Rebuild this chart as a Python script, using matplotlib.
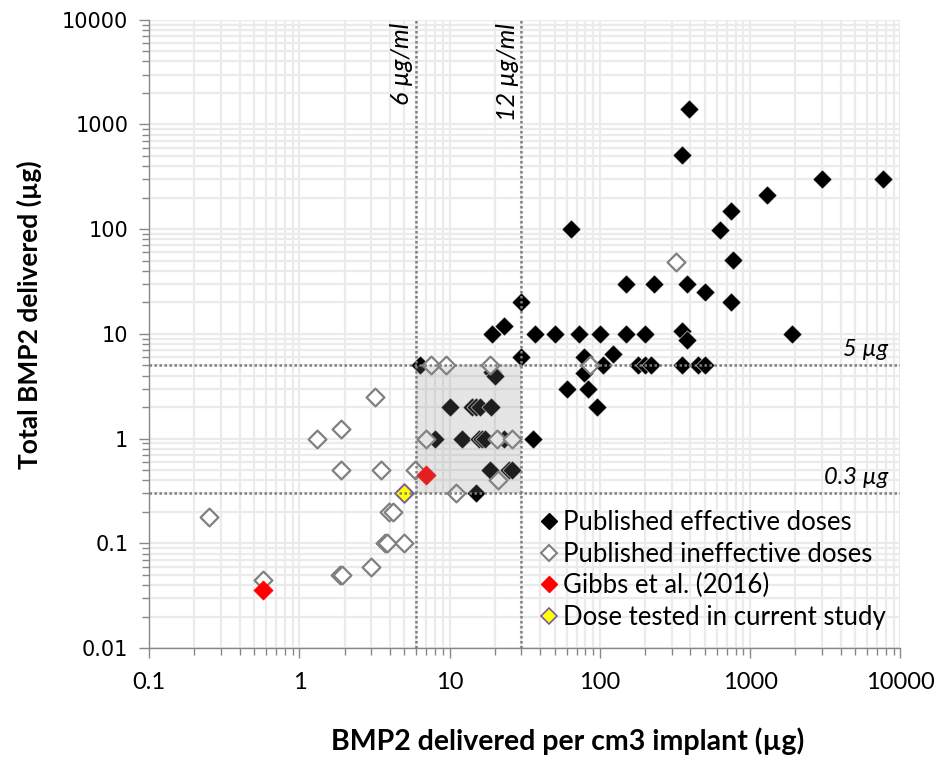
import numpy as np
import matplotlib
matplotlib.use("Agg")
from matplotlib import pyplot as plt
from matplotlib.ticker import LogLocator, FuncFormatter, NullFormatter
from matplotlib.patches import Rectangle
from matplotlib.lines import Line2D

plt.rcParams['font.family'] = ['Lato', 'DejaVu Sans']

# ---- data (x: ug per cm3 implant, y: total ug) ----
eff_x = [6.3, 30, 19, 20, 10, 14, 15, 16, 18.7, 8, 12, 15.7, 16.5, 17.2, 23, 36,
         18.5, 25, 26, 15,
         390, 350, 3000, 7700, 1300, 750, 630, 64, 770, 150, 230, 380, 500, 740, 30,
         19, 23, 37, 50, 72, 100, 150, 200, 350, 380, 1900, 123, 78, 105,
         180, 200, 220, 350, 450, 500, 78, 60, 83, 95]
eff_y = [5, 6, 4.3, 4, 2, 2, 2, 2, 2, 1, 1, 1, 1, 1, 1, 1,
         0.5, 0.5, 0.5, 0.3,
         1400, 510, 300, 300, 210, 150, 98, 100, 51, 30, 30, 30, 25, 20, 20,
         10, 12, 10, 10, 10, 10, 10, 10, 10.6, 8.7, 10, 6.5, 6, 5,
         5, 5, 5, 5, 5, 5, 4.2, 3, 3, 2]

ineff_x = [7.5, 9.5, 18.6, 86, 320, 3.2, 1.9, 1.3, 7, 20.8, 26, 1.9, 3.5, 5.9,
           21, 11, 0.25, 3.95, 4.2, 3.7, 3.85, 5, 3.0, 1.85, 1.92, 0.57]
ineff_y = [5, 5, 5, 5, 49, 2.5, 1.25, 1.0, 1, 1, 1, 0.5, 0.5, 0.5,
           0.4, 0.3, 0.18, 0.2, 0.198, 0.101, 0.101, 0.1, 0.06, 0.05, 0.05, 0.045]

gibbs_x = [0.57, 7.0]
gibbs_y = [0.036, 0.45]

current_x = [5.0]
current_y = [0.3]

conc_lines = [6, 30]
conc_labels = ['6 µg/ml', '12 µg/ml']
dose_lines = [5, 0.3]
dose_labels = ['5 µg', '0.3 µg']

x_ticks = [0.1, 1, 10, 100, 1000, 10000]
y_ticks = [0.01, 0.1, 1, 10, 100, 1000, 10000]

# ---- figure ----
fig = plt.figure(figsize=(9.38, 7.59), dpi=100)
ax = fig.add_axes([0.159, 0.146, 0.801, 0.828])

ax.set_xscale('log')
ax.set_yscale('log')
ax.set_xlim(0.1, 10000)
ax.set_ylim(0.01, 10000)

ax.grid(which='both', color='#ebebeb', lw=1.6, zorder=0)
ax.set_axisbelow(True)

ax.scatter(eff_x, eff_y, marker='D', s=95, c='black', edgecolors='white',
           linewidths=0.4, zorder=3)
ax.scatter(ineff_x, ineff_y, marker='D', s=82, c='white', edgecolors='#808080',
           linewidths=1.6, zorder=4)
ax.scatter(gibbs_x, gibbs_y, marker='D', s=95, c='#ff0000', edgecolors='#ff0000',
           linewidths=0.5, zorder=5)
ax.scatter(current_x, current_y, marker='D', s=90, c='#ffff00', edgecolors='#7a5c9e',
           linewidths=1.4, zorder=5)

# shaded window between the reference lines
ax.add_patch(Rectangle((conc_lines[0], dose_lines[1]), conc_lines[1] - conc_lines[0],
                       dose_lines[0] - dose_lines[1], facecolor='#8b8b8b',
                       alpha=0.22, edgecolor='none', zorder=6))

for xv, lab in zip(conc_lines, conc_labels):
    ax.axvline(xv, color='#7f7f7f', lw=1.8, ls=(0, (1, 1)), zorder=7)
    ax.text(xv / 1.045, 10000 / 1.08, lab, rotation=90, ha='right', va='top',
            fontsize=18, style='italic', zorder=8)

for yv, lab in zip(dose_lines, dose_labels):
    ax.axhline(yv, color='#7f7f7f', lw=1.8, ls=(0, (1, 1)), zorder=7)
    ax.text(8300, yv * 1.13, lab, ha='right', va='bottom',
            fontsize=17, style='italic', zorder=8)

# axes styling
for s in ['top', 'right']:
    ax.spines[s].set_visible(False)
for s in ['left', 'bottom']:
    ax.spines[s].set_color('#888888')
    ax.spines[s].set_linewidth(1.0)

ax.xaxis.set_minor_locator(LogLocator(base=10, subs=np.arange(2, 10), numticks=100))
ax.yaxis.set_minor_locator(LogLocator(base=10, subs=np.arange(2, 10), numticks=100))
ax.set_xticks(x_ticks)
ax.set_yticks(y_ticks)
fmt = FuncFormatter(lambda v, _: f'{v:g}')
ax.xaxis.set_major_formatter(fmt)
ax.yaxis.set_major_formatter(fmt)
ax.xaxis.set_minor_formatter(NullFormatter())
ax.yaxis.set_minor_formatter(NullFormatter())
ax.tick_params(which='major', direction='out', length=7, color='#888888', width=1)
ax.tick_params(which='minor', direction='out', length=5, color='#888888', width=1)
ax.tick_params(axis='x', labelsize=17, pad=10)
ax.tick_params(axis='y', labelsize=15, pad=8)
for t in ax.get_yticklabels():
    t.set_fontfamily('DejaVu Sans')

ax.set_xlabel('BMP2 delivered per cm3 implant (µg)', fontsize=20.5, fontweight='bold')
ax.xaxis.set_label_coords(0.557, -0.126)
ax.set_ylabel('Total BMP2 delivered (µg)', fontsize=19, fontweight='bold')
ax.yaxis.set_label_coords(-0.142, 0.53)

handles = [
    Line2D([], [], marker='D', ls='none', color='black', markersize=8),
    Line2D([], [], marker='D', ls='none', markerfacecolor='white', markeredgecolor='#808080',
           markeredgewidth=1.5, markersize=8),
    Line2D([], [], marker='D', ls='none', color='#ff0000', markersize=8),
    Line2D([], [], marker='D', ls='none', markerfacecolor='#ffff00', markeredgecolor='#7a5c9e',
           markeredgewidth=1.2, markersize=8),
]
labels = ['Published effective doses', 'Published ineffective doses',
          'Gibbs et al. (2016)', 'Dose tested in current study']
ax.legend(handles, labels, loc='upper left', bbox_to_anchor=(0.505, 0.236), frameon=False,
          fontsize=18.5, handlelength=0.8, handletextpad=0.15, labelspacing=0.25,
          borderaxespad=0)

fig.savefig('out.png', dpi=100, facecolor='white')
